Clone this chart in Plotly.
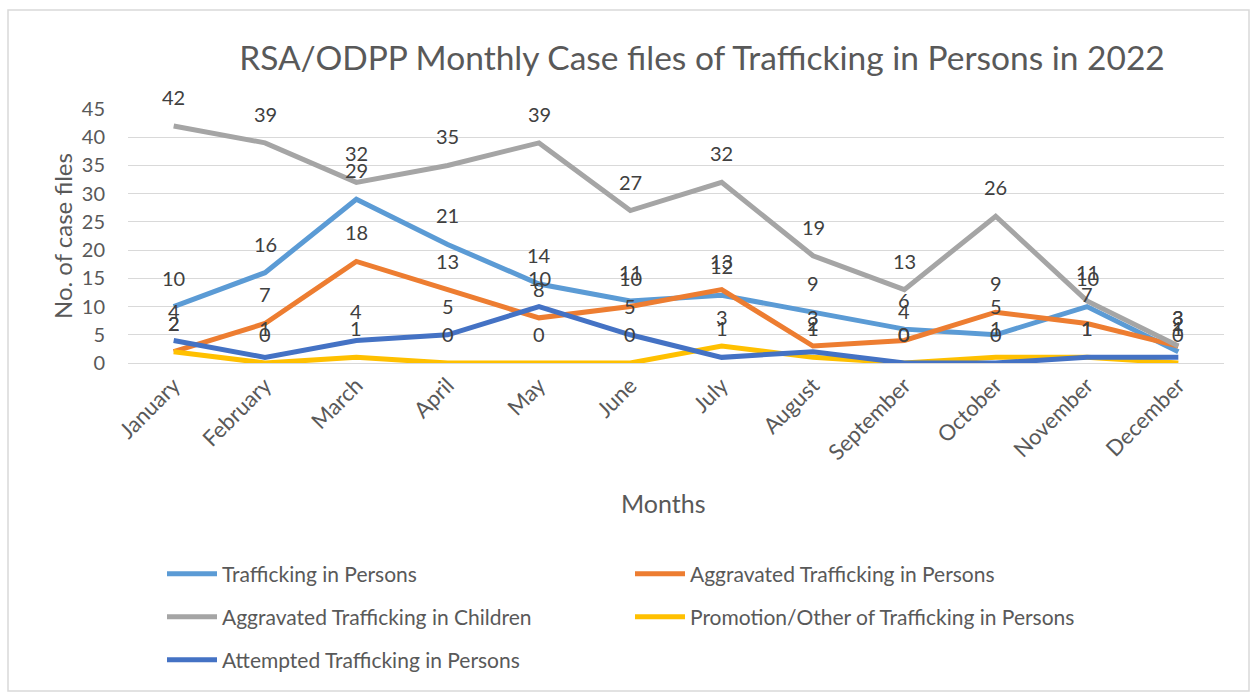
import plotly.graph_objects as go

months = ["January", "February", "March", "April", "May", "June", "July",
          "August", "September", "October", "November", "December"]

tip = [10, 16, 29, 21, 14, 11, 12, 9, 6, 5, 10, 2]
agg_tip = [2, 7, 18, 13, 8, 10, 13, 3, 4, 9, 7, 3]
agg_tic = [42, 39, 32, 35, 39, 27, 32, 19, 13, 26, 11, 3]
promo = [2, 0, 1, 0, 0, 0, 3, 1, 0, 1, 1, 0]
attempted = [4, 1, 4, 5, 10, 5, 1, 2, 0, 0, 1, 1]

series = [
    ("Trafficking in Persons", tip, "#5B9BD5"),
    ("Aggravated Trafficking in Persons", agg_tip, "#ED7D31"),
    ("Aggravated Trafficking in Children", agg_tic, "#A5A5A5"),
    ("Promotion/Other of Trafficking in Persons", promo, "#FFC000"),
    ("Attempted Trafficking in Persons", attempted, "#4472C4"),
]

FONT = "Lato"
TXT = "#595959"

# plot area: x 128..1224, y 109..363
L, R, T, B = 128, 1224, 109, 363
W, H = R - L, B - T

def px_x(p):
    return (p - L) / W

def px_y(p):
    return (B - p) / H

legend_pos = [(170, 574), (638, 574), (170, 617), (638, 617), (170, 660)]

fig = go.Figure()
annotations = []
legends = {}
for i, (name, vals, color) in enumerate(series):
    lname = "legend" if i == 0 else f"legend{i+1}"
    fig.add_trace(go.Scatter(
        x=months, y=vals, name=name, mode="lines",
        line=dict(color=color, width=5),
        legend=lname, showlegend=True, hoverinfo="skip",
    ))
    lx, ly = legend_pos[i]
    legends[lname] = dict(
        x=px_x(lx - 8), y=px_y(ly), xanchor="left", yanchor="middle",
        font=dict(family=FONT, size=21, color=TXT),
        bgcolor="rgba(0,0,0,0)", itemwidth=50, visible=True,
    )
    for m, v in zip(months, vals):
        annotations.append(dict(
            x=m, y=v, xref="x", yref="y", text=str(v), showarrow=False,
            yshift=29, font=dict(family=FONT, size=20, color="#404040"),
        ))

annotations.append(dict(
    x=px_x(663), y=px_y(503), xref="paper", yref="paper", text="Months",
    showarrow=False, font=dict(family=FONT, size=25, color=TXT),
    xanchor="center", yanchor="middle"))
annotations.append(dict(
    x=px_x(62), y=px_y(236), xref="paper", yref="paper", text="No. of case files",
    showarrow=False, textangle=-90, font=dict(family=FONT, size=24, color=TXT),
    xanchor="center", yanchor="middle"))

fig.update_layout(
    width=1250, height=692,
    showlegend=True,
    margin=dict(l=L, r=1250 - R, t=T, b=692 - B),
    paper_bgcolor="white", plot_bgcolor="white",
    title=dict(text="RSA/ODPP Monthly Case files of Trafficking in Persons in 2022",
               x=px_x(702), xref="paper", xanchor="center",
               y=1 - 58 / 692, yanchor="middle",
               font=dict(family=FONT, size=33.5, color=TXT)),
    xaxis=dict(showgrid=False, tickangle=-45, showline=True, linecolor="#D9D9D9",
               linewidth=1, range=[-0.5, 11.5],
               tickfont=dict(family=FONT, size=22, color=TXT),
               fixedrange=True),
    yaxis=dict(range=[0, 45], dtick=5, showgrid=True, gridcolor="#D9D9D9",
               gridwidth=1, zeroline=False, showline=False,
               tickfont=dict(family=FONT, size=20, color=TXT),
               ticklabelstandoff=22, fixedrange=True),
    annotations=annotations,
    shapes=[dict(type="rect", xref="paper", yref="paper",
                 x0=px_x(8), x1=px_x(1249), y0=px_y(691), y1=px_y(10),
                 line=dict(color="#D9D9D9", width=1.5), layer="below")],
    **legends,
)

fig.write_html("out.html", config={"displayModeBar": False},
               post_script="document.body.style.margin='0';document.body.style.padding='0';")
